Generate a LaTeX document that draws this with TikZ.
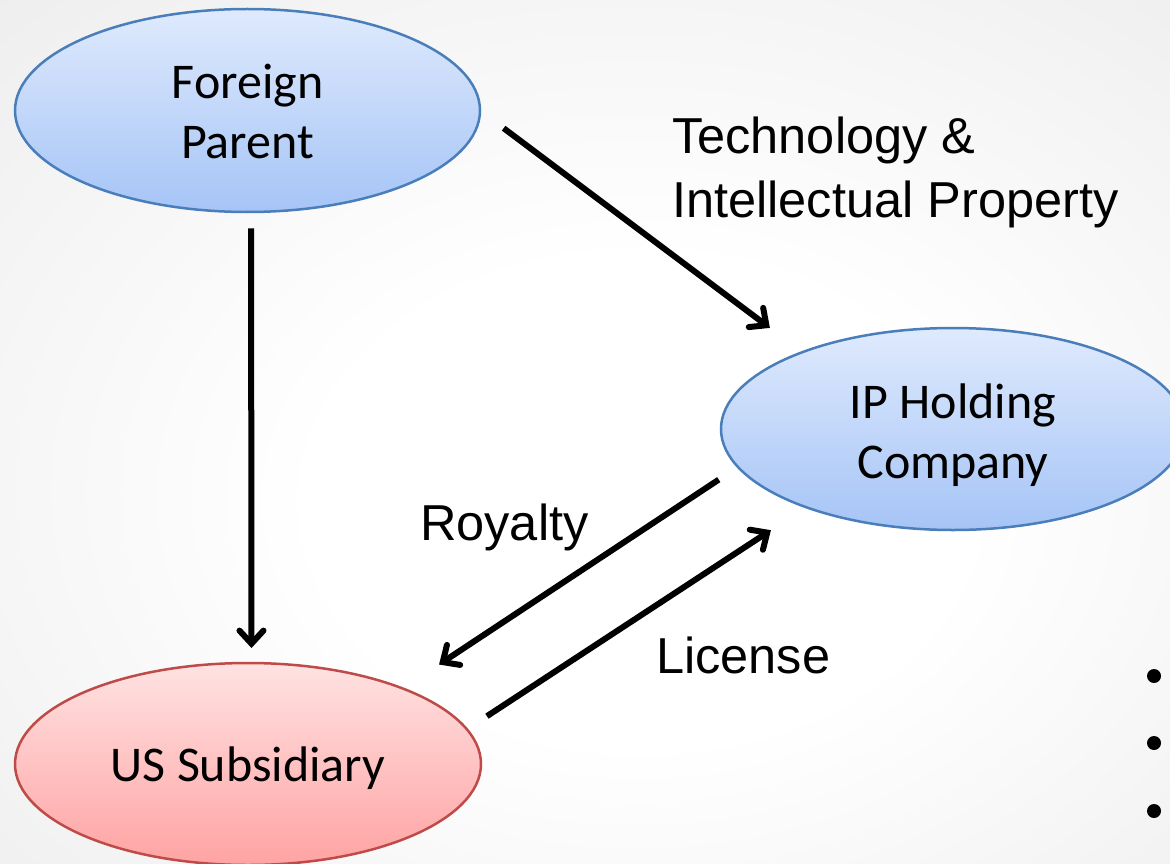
\documentclass[tikz,border=0pt]{standalone}
\usepackage{fontspec}
\setmainfont{Liberation Sans}
\newfontfamily\bodyfont{Carlito}
\usetikzlibrary{shapes.geometric,arrows.meta}

\definecolor{blueTop}{HTML}{DFEAFD}
\definecolor{blueBot}{HTML}{A5C4F6}
\definecolor{blueLine}{HTML}{4A7EBB}
\definecolor{redTop}{HTML}{FFE2E2}
\definecolor{redBot}{HTML}{FFA3A3}
\definecolor{redLine}{HTML}{BE4B48}
\definecolor{bgMid}{HTML}{E6E6E6}
\definecolor{bgEdge}{HTML}{D6D6D6}

% soft grey slide backdrop, white in the middle
\pgfdeclareradialshading{backdrop}{\pgfpoint{3bp}{-5bp}}{%
  color(0bp)=(white); color(14bp)=(white); color(50bp)=(bgMid); color(72bp)=(bgEdge)}

\tikzset{
  entity/.style={ellipse, minimum width=465pt, minimum height=203pt,
    inner sep=0pt, outer sep=0pt, line width=2.5pt},
  blueent/.style={entity, draw=blueLine, top color=blueTop, bottom color=blueBot},
  redent/.style={entity, draw=redLine, top color=redTop, bottom color=redBot},
  elltext/.style={font=\bodyfont\fontsize{50}{60}\selectfont, align=center, inner sep=0pt},
  flowlabel/.style={font=\fontsize{50.5}{64}\selectfont, align=left, inner sep=0pt},
  flow/.style={line width=6pt, draw=black,
    -{Straight Barb[length=13pt,width=24pt,line width=6pt,line cap=round]}},
  bulletdot/.style={circle, fill=black, minimum size=14pt, inner sep=0pt}
}

\begin{document}
\begin{tikzpicture}[x=1pt,y=-1pt]
  \useasboundingbox (0,0) rectangle (1170,864);
  \clip (0,0) rectangle (1170,864);
  \shade[shading=backdrop] (0,0) rectangle (1170,864);

  % entities
  \node[blueent] (fp) at (247.5,110.5) {};
  \node[blueent, minimum width=464pt, minimum height=202pt] (ip) at (953,429) {};
  \node[redent, minimum width=466pt, minimum height=202pt] (us) at (248,764) {};

  \node[elltext] (fpt) at (247.5,111) {Foreign\\Parent};
  \node[elltext] (ipt) at (953,435) {IP Holding\\Company};
  \node[elltext, anchor=base] (ust) at (248,781.7) {US Subsidiary};

  % flows between entities
  \draw[flow, shorten <=16.5pt, shorten >=15pt] (fp.-88) -- (us.88.3);
  \draw[flow, shorten <=29.5pt, shorten >=40.5pt] (fp.east) -- (ip.153);
  \draw[flow, shorten <=23pt, shorten >=43.5pt] (ip.190.5) -- (us.26.6);
  \draw[flow, shorten <=24pt, shorten >=42pt] (us.9.4) -- (ip.208);

  % flow labels
  \node[flowlabel, anchor=north west] (tech) at (672,117) {Technology \&\\Intellectual Property};
  \node[flowlabel, anchor=base west] (roy) at (420,540) {Royalty};
  \node[flowlabel, anchor=base west] (lic) at (656,673) {License};

  % bullets at the right edge
  \node[bulletdot] (b1) at (1154,676) {};
  \node[bulletdot] (b2) at (1154,743) {};
  \node[bulletdot] (b3) at (1154,811) {};
\end{tikzpicture}
\end{document}
